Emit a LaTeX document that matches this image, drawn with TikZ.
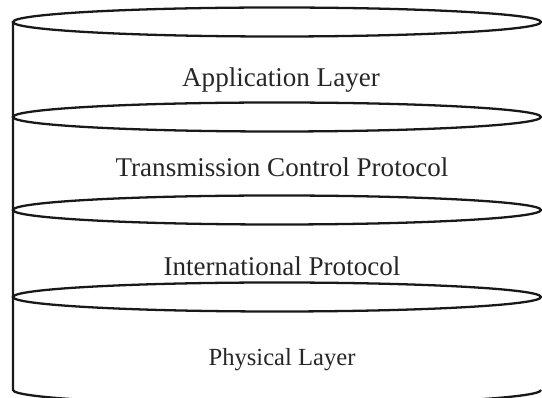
\documentclass[tikz,border=0pt]{standalone}
\usepackage{fontspec}
\setmainfont{Liberation Serif}
\usetikzlibrary{positioning}
\tikzstyle{disk}=[draw,line width=1.3pt,color=black!90]
\tikzstyle{layer}=[font=\fontsize{15.4}{18}\selectfont,anchor=base,inner sep=0pt,text=black!85]

\begin{document}
\begin{tikzpicture}[x=0.02cm,y=-0.02cm]
  \useasboundingbox (0,0) rectangle (542,398);
  % stack outline
  \draw[disk] (13,22) -- (13,390) arc[start angle=180,end angle=0,x radius=264,y radius=14.5];
  \foreach \y in {22,117,210,297}
    \draw[disk] (277,\y) ellipse[x radius=264,y radius=14.5];
  % layer names
  \node[layer] (app) at (281,87) {Application Layer};
  \node[layer] (tcp) at (282,177) {Transmission Control Protocol};
  \node[layer] (ip) at (282,276) {International Protocol};
  \node[layer, font=\fontsize{14}{17}\selectfont] (phy) at (282,366) {Physical Layer};
\end{tikzpicture}
\end{document}
